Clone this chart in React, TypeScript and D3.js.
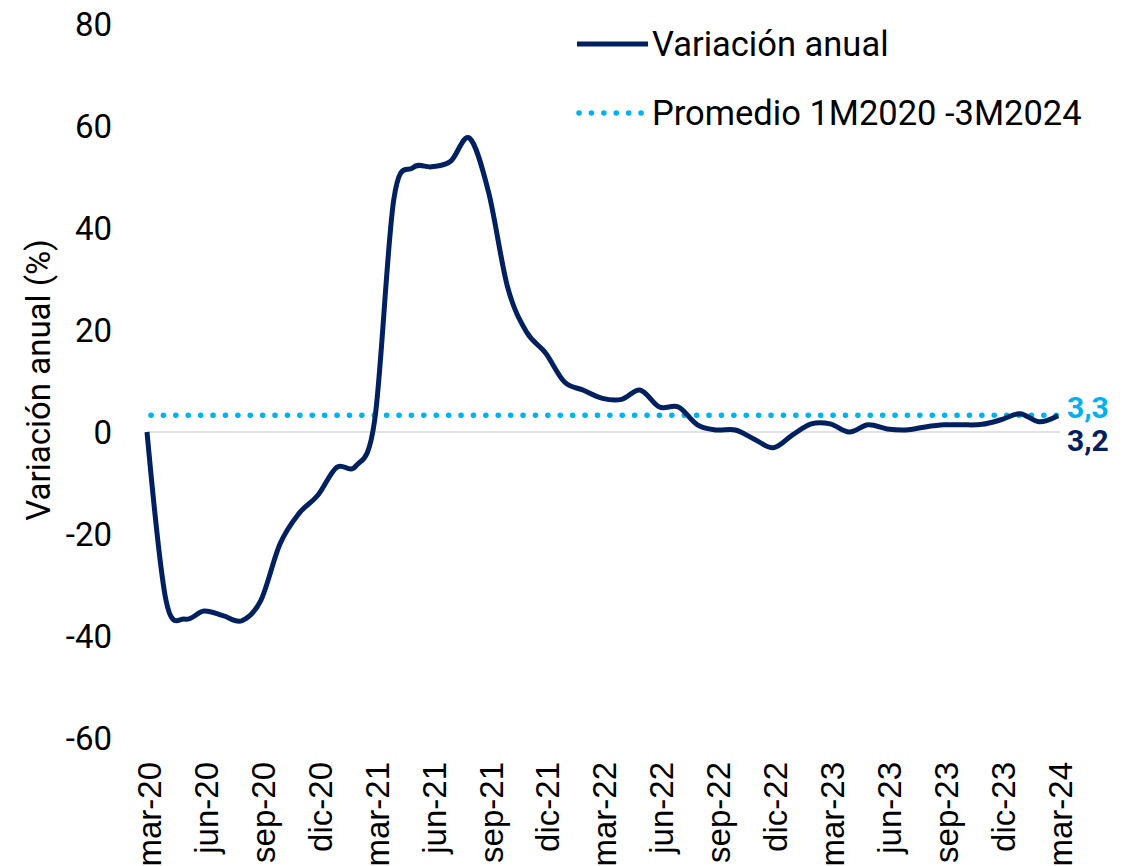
import React from 'react';
import * as d3 from 'd3';

// Monthly series, mar-20 .. mar-24
const months: string[] = [
  'mar-20', 'abr-20', 'may-20', 'jun-20', 'jul-20', 'ago-20', 'sep-20', 'oct-20', 'nov-20', 'dic-20',
  'ene-21', 'feb-21', 'mar-21', 'abr-21', 'may-21', 'jun-21', 'jul-21', 'ago-21', 'sep-21', 'oct-21', 'nov-21', 'dic-21',
  'ene-22', 'feb-22', 'mar-22', 'abr-22', 'may-22', 'jun-22', 'jul-22', 'ago-22', 'sep-22', 'oct-22', 'nov-22', 'dic-22',
  'ene-23', 'feb-23', 'mar-23', 'abr-23', 'may-23', 'jun-23', 'jul-23', 'ago-23', 'sep-23', 'oct-23', 'nov-23', 'dic-23',
  'ene-24', 'feb-24', 'mar-24',
];

const variacion: number[] = [
  0, -33, -36.7, -35.1, -36, -37, -33, -22, -16, -12.4,
  -6.9, -6.7, 2.4, 45.5, 51.8, 52, 53.1, 57.6, 47, 28.4, 19.6, 15.5,
  9.8, 8.2, 6.6, 6.4, 8.2, 4.9, 4.9, 1.4, 0.4, 0.4, -1.4, -3.1,
  -0.6, 1.6, 1.6, 0, 1.4, 0.6, 0.4, 1, 1.4, 1.4, 1.5, 2.4,
  3.6, 2, 3.2,
];

const promedio = 3.3;
const tickMonths: string[] = months.filter((_, i) => i % 3 === 0);
const yTicks: number[] = [-60, -40, -20, 0, 20, 40, 60, 80];

const NAVY = '#002060';
const CYAN = '#00B0F0';

const App: React.FC = () => {
  const width = 1122;
  const height = 866;

  const x = d3.scalePoint<string>().domain(months).range([147, 1058]);
  const y = d3.scaleLinear().domain([-60, 80]).range([738, 24]);

  const line = d3
    .line<number>()
    .x((_, i) => x(months[i]) || 0)
    .y(d => y(d))
    .curve(d3.curveCardinal.tension(0));

  const x0 = x(months[0]) || 0;
  const x1 = x(months[months.length - 1]) || 0;

  return (
    <div style={{ position: 'absolute', left: 0, top: 0 }}>
      <svg width={width} height={height} style={{ display: 'block', background: '#fff' }}>
        {/* zero line */}
        <line x1={x0} x2={x1 + 2} y1={y(0)} y2={y(0)} stroke="#D9D9D9" strokeWidth={1.5} />

        {/* average line */}
        <line
          x1={x0 + 4}
          x2={x1}
          y1={y(promedio)}
          y2={y(promedio)}
          stroke={CYAN}
          strokeWidth={5.5}
          strokeLinecap="round"
          strokeDasharray="0.1 12.3"
        />

        {/* series */}
        <path d={line(variacion) || ''} fill="none" stroke={NAVY} strokeWidth={5} strokeLinejoin="round" />

        {/* y tick labels */}
        {yTicks.map(t => (
          <text
            key={t}
            x={112}
            y={y(t)}
            dy="0.36em"
            textAnchor="end"
            fontFamily="Roboto"
            fontSize={33}
            fill="#000"
          >
            {t}
          </text>
        ))}

        {/* y axis title */}
        <text
          transform={`translate(50,380) rotate(-90)`}
          textAnchor="middle"
          fontFamily="Roboto"
          fontSize={33}
          fill="#000"
        >
          Variación anual (%)
        </text>

        {/* x tick labels */}
        {tickMonths.map(m => (
          <text
            key={m}
            transform={`translate(${(x(m) || 0) + 2},762) rotate(-90)`}
            dy="0.36em"
            textAnchor="end"
            fontFamily="Liberation Sans, Arial"
            fontSize={33}
            fill="#000"
          >
            {m}
          </text>
        ))}

        {/* end labels */}
        <text x={1067} y={407} dy="0.36em" fontFamily="Roboto" fontWeight="bold" fontSize={30} fill={CYAN}>
          3,3
        </text>
        <text x={1067} y={440} dy="0.36em" fontFamily="Roboto" fontWeight="bold" fontSize={30} fill={NAVY}>
          3,2
        </text>

        {/* legend */}
        <line x1={577} x2={648} y1={44} y2={44} stroke={NAVY} strokeWidth={5} />
        <text x={652} y={44} dy="0.36em" fontFamily="Roboto" fontSize={34.5} fill="#000">
          Variación anual
        </text>
        <line
          x1={579}
          x2={646}
          y1={113}
          y2={113}
          stroke={CYAN}
          strokeWidth={5.5}
          strokeLinecap="round"
          strokeDasharray="0.1 12.3"
        />
        <text x={652} y={113} dy="0.36em" fontFamily="Roboto" fontSize={34.5} fill="#000">
          Promedio 1M2020 -3M2024
        </text>
      </svg>
    </div>
  );
};

export default App;
